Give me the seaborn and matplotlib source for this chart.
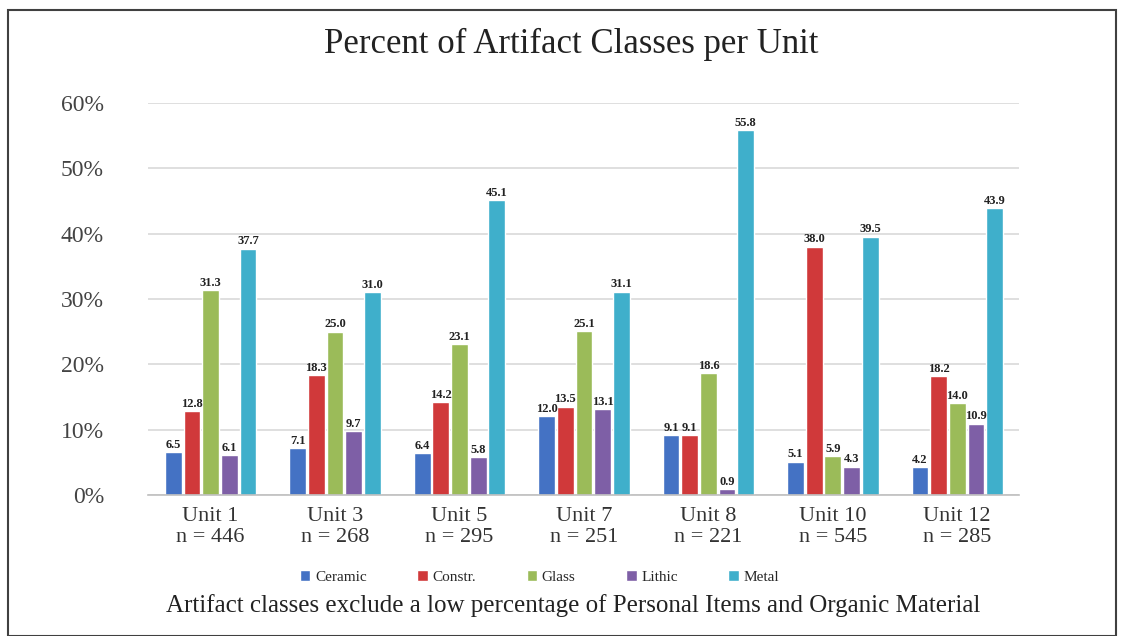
import pandas as pd
import numpy as np
import matplotlib.pyplot as plt
import seaborn as sns
from matplotlib.patches import Rectangle

# Values (percent of artifacts per unit)
units = ['Unit 1', 'Unit 3', 'Unit 5', 'Unit 7', 'Unit 8', 'Unit 10', 'Unit 12']
n_counts = ['446', '268', '295', '251', '221', '545', '285']
classes = ['Ceramic', 'Constr.', 'Glass', 'Lithic', 'Metal']
ceramic = [6.5, 7.1, 6.4, 12.0, 9.1, 5.1, 4.2]
constr = [12.8, 18.3, 14.2, 13.5, 9.1, 38.0, 18.2]
glass = [31.3, 25.0, 23.1, 25.1, 18.6, 5.9, 14.0]
lithic = [6.1, 9.7, 5.8, 13.1, 0.9, 4.3, 10.9]
metal = [37.7, 31.0, 45.1, 31.1, 55.8, 39.5, 43.9]

colors = ['#4472C4', '#D0393A', '#9BBB59', '#7E5FA6', '#3FAFCB']

# Long-form table for seaborn
rows = []
for cls, vals in zip(classes, [ceramic, constr, glass, lithic, metal]):
    for u, v in zip(units, vals):
        rows.append({'Unit': u, 'Class': cls, 'Percent': v})
df = pd.DataFrame(rows)

sns.set_theme(style='white')
plt.rcParams['font.family'] = ['Liberation Serif', 'DejaVu Serif']

fig = plt.figure(figsize=(11.24, 6.36), dpi=100)
ax = fig.add_axes([0.132, 0.222, 0.775, 0.616])

sns.barplot(data=df, x='Unit', y='Percent', hue='Class', order=units,
            hue_order=classes, palette=colors, width=0.75, gap=0.1,
            saturation=1, ax=ax, legend=True)

# value labels
for cont in ax.containers:
    ax.bar_label(cont, fmt='%.1f', fontsize=9, fontweight='bold',
                 padding=1, color='#222222')

ax.set_ylim(0, 60)
ax.set_yticks(range(0, 61, 10))
ax.set_yticklabels([f'{t}%' for t in range(0, 61, 10)], fontsize=17,
                   color='#444444')
ax.set_xticks(range(len(units)))
ax.set_xticklabels([f'{u}\nn = {n}' for u, n in zip(units, n_counts)],
                   fontsize=16, color='#333333', linespacing=1.1)
ax.tick_params(axis='x', length=0, pad=9)
ax.tick_params(axis='y', length=0, pad=32)
ax.set_xlabel('')
ax.set_ylabel('')
ax.grid(axis='y', color='#D9D9D9', linewidth=1.2)
ax.set_axisbelow(True)
for s in ['top', 'right', 'left']:
    ax.spines[s].set_visible(False)
ax.spines['bottom'].set_color('#BFBFBF')
ax.spines['bottom'].set_linewidth(1.2)

handles, labels = ax.get_legend_handles_labels()
ax.legend_.remove()
fig.legend(handles, labels, loc='center', bbox_to_anchor=(0.48, 0.093),
           ncol=5, frameon=False, fontsize=11, handlelength=0.7,
           handleheight=0.7, columnspacing=3.3, handletextpad=0.3)

fig.text(0.508, 0.93, 'Percent of Artifact Classes per Unit', ha='center',
         va='center', fontsize=25, color='#222222')
fig.text(0.51, 0.048,
         'Artifact classes exclude a low percentage of Personal Items and Organic Material',
         ha='center', va='center', fontsize=18, color='#222222')

# outer frame
fig.patches.append(Rectangle((0.007, 0.0), 0.986, 0.985, transform=fig.transFigure,
                             fill=False, edgecolor='#404040', linewidth=1.5))

fig.savefig('out.png', dpi=100, facecolor='white')
